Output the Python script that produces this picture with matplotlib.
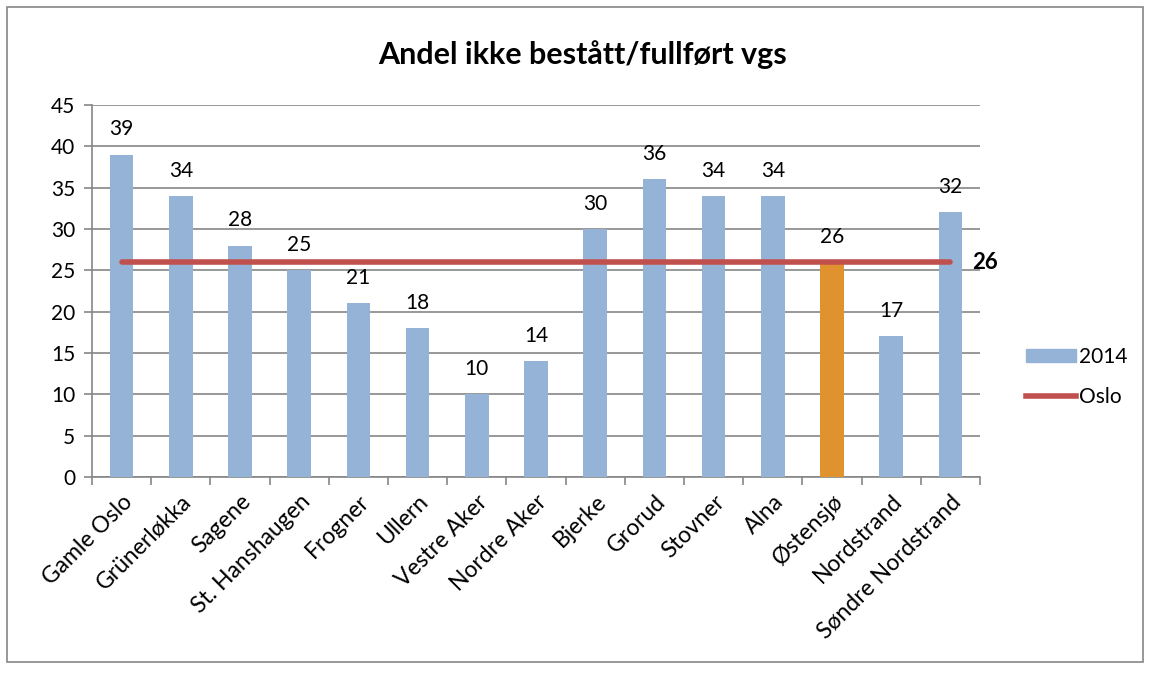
import matplotlib.pyplot as plt
from matplotlib.patches import Rectangle
from matplotlib.lines import Line2D

plt.rcParams['font.family'] = ['Lato', 'DejaVu Sans']

bydeler = ['Gamle Oslo', 'Grünerløkka', 'Sagene', 'St. Hanshaugen', 'Frogner',
           'Ullern', 'Vestre Aker', 'Nordre Aker', 'Bjerke', 'Grorud', 'Stovner',
           'Alna', 'Østensjø', 'Nordstrand', 'Søndre Nordstrand']
verdier = [39, 34, 28, 25, 21, 18, 10, 14, 30, 36, 34, 34, 26, 17, 32]
oslo = 26
uthevet = 'Østensjø'

blaa = '#95B3D7'
oransje = '#E0922F'
rod = '#C0504D'

fig = plt.figure(figsize=(11.52, 6.75), dpi=100)
ax = fig.add_axes([92/1152, 1-477/675, (980-92)/1152, (477-105)/675])

x = list(range(len(bydeler)))
farger = [oransje if b == uthevet else blaa for b in bydeler]
ax.bar(x, verdier, width=0.4, color=farger, zorder=3)
for xi, v in zip(x, verdier):
    ax.annotate(str(v), (xi, v), xytext=(0, 11), textcoords='offset points',
                ha='center', va='bottom', fontsize=15)

ax.plot([x[0], x[-1]], [oslo, oslo], color=rod, lw=4, solid_capstyle='round', zorder=4)
ax.annotate(str(oslo), (x[-1], oslo), xytext=(16, 0), textcoords='offset points',
            ha='left', va='center', fontsize=16, fontweight='bold')

ax.set_xlim(-0.5, len(bydeler) - 0.5)
ax.set_ylim(0, 45)
ax.set_yticks(range(0, 46, 5))
ax.yaxis.grid(True, color='#868686', lw=1.2, zorder=0)
ax.set_axisbelow(True)
ax.set_xticks([i - 0.5 for i in range(len(bydeler) + 1)], minor=False)
ax.set_xticklabels([])
ax.set_xticks(x, minor=True)
ax.set_xticklabels(bydeler, minor=True, rotation=45, ha='right', rotation_mode='anchor',
                   fontsize=16.5)
ax.tick_params(axis='x', which='minor', length=0, pad=10)
ax.tick_params(axis='x', which='major', length=6, color='#868686', width=1.2)
ax.tick_params(axis='y', length=6, color='#868686', width=1.2, labelsize=15, pad=6)
for s in ['top', 'right']:
    ax.spines[s].set_visible(False)
for s in ['left', 'bottom']:
    ax.spines[s].set_color('#868686')
    ax.spines[s].set_linewidth(1.2)

fig.text(583/1152, 1-55/675, 'Andel ikke bestått/fullført vgs', ha='center', va='center',
         fontsize=22, fontweight='bold')

handles = [Rectangle((0, 0), 1, 1, color=blaa), Line2D([], [], color=rod, lw=4)]
fig.legend(handles, ['2014', 'Oslo'], loc='center left', bbox_to_anchor=(1018/1152, 1-377/675),
           frameon=False, fontsize=15, handlelength=2.4, handleheight=0.6,
           handletextpad=0.15, labelspacing=1.0, borderaxespad=0)

fig.patches.append(Rectangle((7/1152, 13/675), 1136/1152, 655/675, transform=fig.transFigure,
                             fill=False, edgecolor='#868686', lw=1.2))

fig.savefig('out.png', dpi=100)
